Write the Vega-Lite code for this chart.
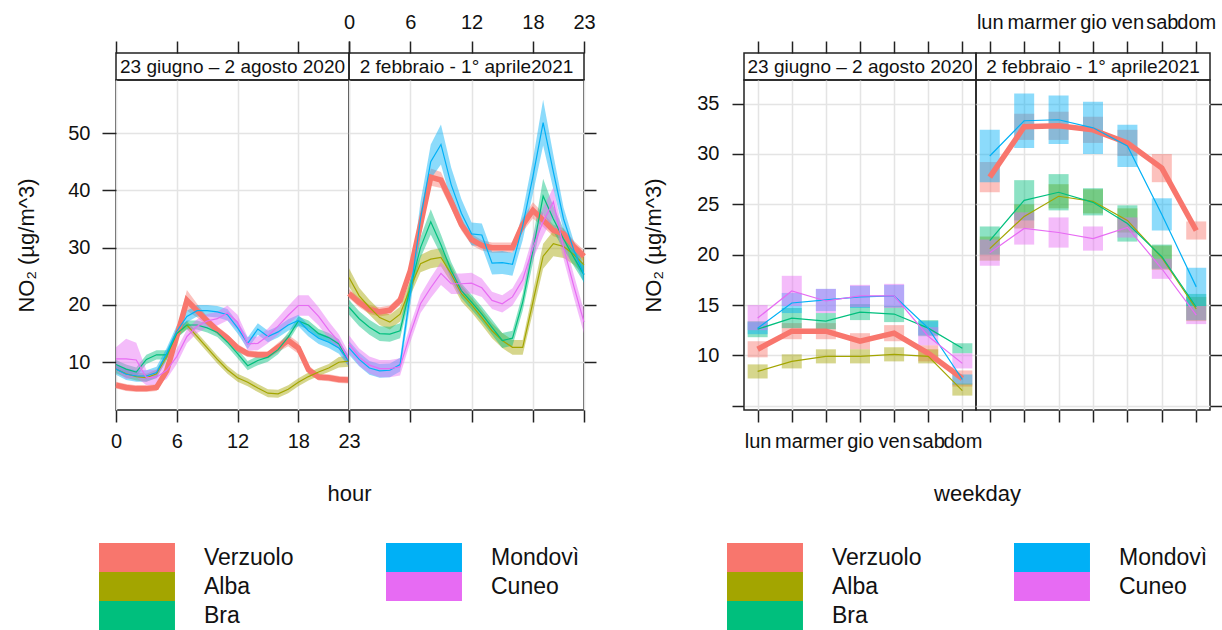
{
"$schema": "https://vega.github.io/schema/vega-lite/v6.json",
"background": "white",
"padding": {"left": 15, "top": 11, "right": 5, "bottom": 0},
"config": {
  "font": "Liberation Sans",
  "view": {"stroke": "#222", "strokeWidth": 1.5},
  "axis": {"domain": false, "tickColor": "#222", "tickWidth": 1.5, "tickSize": 12, "labelFontSize": 20, "labelColor": "#111", "titleFontSize": 22, "titleFontWeight": "normal", "titleColor": "#111", "gridColor": "#e4e4e4", "gridWidth": 1.5, "labelFlush": false, "labelOverlap": false},
  "legend": {"padding": 0}
},
"datasets": {
"hr": [
{"p":"s","s":"Verzuolo","h":0,"v":6.0,"lo":5.4,"hi":6.6},
{"p":"s","s":"Verzuolo","h":1,"v":5.6,"lo":5.0,"hi":6.2},
{"p":"s","s":"Verzuolo","h":2,"v":5.4,"lo":4.8,"hi":6.0},
{"p":"s","s":"Verzuolo","h":3,"v":5.4,"lo":4.8,"hi":6.0},
{"p":"s","s":"Verzuolo","h":4,"v":5.6,"lo":5.0,"hi":6.2},
{"p":"s","s":"Verzuolo","h":5,"v":8.5,"lo":7.7,"hi":9.3},
{"p":"s","s":"Verzuolo","h":6,"v":14.5,"lo":13.5,"hi":15.5},
{"p":"s","s":"Verzuolo","h":7,"v":20.8,"lo":19.0,"hi":22.6},
{"p":"s","s":"Verzuolo","h":8,"v":19.0,"lo":17.8,"hi":20.2},
{"p":"s","s":"Verzuolo","h":9,"v":17.2,"lo":16.4,"hi":18.0},
{"p":"s","s":"Verzuolo","h":10,"v":15.6,"lo":14.9,"hi":16.3},
{"p":"s","s":"Verzuolo","h":11,"v":14.2,"lo":13.5,"hi":14.9},
{"p":"s","s":"Verzuolo","h":12,"v":12.5,"lo":11.8,"hi":13.2},
{"p":"s","s":"Verzuolo","h":13,"v":11.5,"lo":10.9,"hi":12.1},
{"p":"s","s":"Verzuolo","h":14,"v":11.3,"lo":10.7,"hi":11.9},
{"p":"s","s":"Verzuolo","h":15,"v":11.3,"lo":10.7,"hi":11.9},
{"p":"s","s":"Verzuolo","h":16,"v":12.6,"lo":11.8,"hi":13.4},
{"p":"s","s":"Verzuolo","h":17,"v":13.8,"lo":12.8,"hi":14.8},
{"p":"s","s":"Verzuolo","h":18,"v":12.5,"lo":11.5,"hi":13.5},
{"p":"s","s":"Verzuolo","h":19,"v":8.7,"lo":7.9,"hi":9.5},
{"p":"s","s":"Verzuolo","h":20,"v":7.4,"lo":6.8,"hi":8.0},
{"p":"s","s":"Verzuolo","h":21,"v":7.3,"lo":6.7,"hi":7.9},
{"p":"s","s":"Verzuolo","h":22,"v":7.0,"lo":6.4,"hi":7.6},
{"p":"s","s":"Verzuolo","h":23,"v":6.9,"lo":6.3,"hi":7.5},
{"p":"s","s":"Alba","h":0,"v":8.8,"lo":8.1,"hi":9.5},
{"p":"s","s":"Alba","h":1,"v":8.0,"lo":7.3,"hi":8.7},
{"p":"s","s":"Alba","h":2,"v":7.5,"lo":6.8,"hi":8.2},
{"p":"s","s":"Alba","h":3,"v":7.3,"lo":6.6,"hi":8.0},
{"p":"s","s":"Alba","h":4,"v":8.0,"lo":7.3,"hi":8.7},
{"p":"s","s":"Alba","h":5,"v":11.0,"lo":10.3,"hi":11.7},
{"p":"s","s":"Alba","h":6,"v":15.0,"lo":14.3,"hi":15.7},
{"p":"s","s":"Alba","h":7,"v":16.5,"lo":15.8,"hi":17.2},
{"p":"s","s":"Alba","h":8,"v":14.5,"lo":13.8,"hi":15.2},
{"p":"s","s":"Alba","h":9,"v":12.5,"lo":11.8,"hi":13.2},
{"p":"s","s":"Alba","h":10,"v":10.5,"lo":9.8,"hi":11.2},
{"p":"s","s":"Alba","h":11,"v":8.7,"lo":8.0,"hi":9.4},
{"p":"s","s":"Alba","h":12,"v":7.3,"lo":6.6,"hi":8.0},
{"p":"s","s":"Alba","h":13,"v":6.5,"lo":5.8,"hi":7.2},
{"p":"s","s":"Alba","h":14,"v":5.5,"lo":4.8,"hi":6.2},
{"p":"s","s":"Alba","h":15,"v":4.6,"lo":3.9,"hi":5.3},
{"p":"s","s":"Alba","h":16,"v":4.5,"lo":3.8,"hi":5.2},
{"p":"s","s":"Alba","h":17,"v":5.3,"lo":4.6,"hi":6.0},
{"p":"s","s":"Alba","h":18,"v":6.5,"lo":5.8,"hi":7.2},
{"p":"s","s":"Alba","h":19,"v":7.5,"lo":6.8,"hi":8.2},
{"p":"s","s":"Alba","h":20,"v":8.3,"lo":7.6,"hi":9.0},
{"p":"s","s":"Alba","h":21,"v":9.0,"lo":8.3,"hi":9.7},
{"p":"s","s":"Alba","h":22,"v":10.0,"lo":9.1,"hi":10.9},
{"p":"s","s":"Alba","h":23,"v":10.2,"lo":9.2,"hi":11.2},
{"p":"s","s":"Bra","h":0,"v":9.6,"lo":8.8,"hi":10.4},
{"p":"s","s":"Bra","h":1,"v":8.8,"lo":8.0,"hi":9.6},
{"p":"s","s":"Bra","h":2,"v":8.3,"lo":7.5,"hi":9.1},
{"p":"s","s":"Bra","h":3,"v":10.5,"lo":9.7,"hi":11.3},
{"p":"s","s":"Bra","h":4,"v":11.3,"lo":10.5,"hi":12.1},
{"p":"s","s":"Bra","h":5,"v":11.3,"lo":10.5,"hi":12.1},
{"p":"s","s":"Bra","h":6,"v":15.0,"lo":14.2,"hi":15.8},
{"p":"s","s":"Bra","h":7,"v":16.5,"lo":15.7,"hi":17.3},
{"p":"s","s":"Bra","h":8,"v":16.5,"lo":15.7,"hi":17.3},
{"p":"s","s":"Bra","h":9,"v":16.0,"lo":15.2,"hi":16.8},
{"p":"s","s":"Bra","h":10,"v":15.2,"lo":14.4,"hi":16.0},
{"p":"s","s":"Bra","h":11,"v":13.5,"lo":12.7,"hi":14.3},
{"p":"s","s":"Bra","h":12,"v":11.5,"lo":10.7,"hi":12.3},
{"p":"s","s":"Bra","h":13,"v":9.4,"lo":8.6,"hi":10.2},
{"p":"s","s":"Bra","h":14,"v":10.3,"lo":9.5,"hi":11.1},
{"p":"s","s":"Bra","h":15,"v":10.9,"lo":10.1,"hi":11.7},
{"p":"s","s":"Bra","h":16,"v":12.2,"lo":11.4,"hi":13.0},
{"p":"s","s":"Bra","h":17,"v":14.4,"lo":13.6,"hi":15.2},
{"p":"s","s":"Bra","h":18,"v":17.2,"lo":16.4,"hi":18.0},
{"p":"s","s":"Bra","h":19,"v":16.5,"lo":15.7,"hi":17.3},
{"p":"s","s":"Bra","h":20,"v":15.0,"lo":14.2,"hi":15.8},
{"p":"s","s":"Bra","h":21,"v":14.3,"lo":13.5,"hi":15.1},
{"p":"s","s":"Bra","h":22,"v":13.2,"lo":12.4,"hi":14.0},
{"p":"s","s":"Bra","h":23,"v":10.0,"lo":9.2,"hi":10.8},
{"p":"s","s":"Mondovì","h":0,"v":8.8,"lo":7.8,"hi":9.8},
{"p":"s","s":"Mondovì","h":1,"v":7.9,"lo":6.9,"hi":8.9},
{"p":"s","s":"Mondovì","h":2,"v":7.6,"lo":6.6,"hi":8.6},
{"p":"s","s":"Mondovì","h":3,"v":7.6,"lo":6.6,"hi":8.6},
{"p":"s","s":"Mondovì","h":4,"v":8.2,"lo":7.2,"hi":9.2},
{"p":"s","s":"Mondovì","h":5,"v":11.5,"lo":10.5,"hi":12.5},
{"p":"s","s":"Mondovì","h":6,"v":15.4,"lo":14.4,"hi":16.4},
{"p":"s","s":"Mondovì","h":7,"v":18.0,"lo":17.0,"hi":19.0},
{"p":"s","s":"Mondovì","h":8,"v":19.0,"lo":18.0,"hi":20.0},
{"p":"s","s":"Mondovì","h":9,"v":19.0,"lo":18.0,"hi":20.0},
{"p":"s","s":"Mondovì","h":10,"v":18.8,"lo":17.8,"hi":19.8},
{"p":"s","s":"Mondovì","h":11,"v":18.3,"lo":17.3,"hi":19.3},
{"p":"s","s":"Mondovì","h":12,"v":16.0,"lo":15.0,"hi":17.0},
{"p":"s","s":"Mondovì","h":13,"v":13.3,"lo":12.3,"hi":14.3},
{"p":"s","s":"Mondovì","h":14,"v":15.8,"lo":14.8,"hi":16.8},
{"p":"s","s":"Mondovì","h":15,"v":14.5,"lo":13.5,"hi":15.5},
{"p":"s","s":"Mondovì","h":16,"v":15.3,"lo":14.3,"hi":16.3},
{"p":"s","s":"Mondovì","h":17,"v":16.5,"lo":15.5,"hi":17.5},
{"p":"s","s":"Mondovì","h":18,"v":17.3,"lo":16.3,"hi":18.3},
{"p":"s","s":"Mondovì","h":19,"v":15.5,"lo":14.5,"hi":16.5},
{"p":"s","s":"Mondovì","h":20,"v":14.2,"lo":13.2,"hi":15.2},
{"p":"s","s":"Mondovì","h":21,"v":13.5,"lo":12.5,"hi":14.5},
{"p":"s","s":"Mondovì","h":22,"v":12.5,"lo":11.5,"hi":13.5},
{"p":"s","s":"Mondovì","h":23,"v":10.2,"lo":9.2,"hi":11.2},
{"p":"s","s":"Cuneo","h":0,"v":10.6,"lo":8.6,"hi":12.6},
{"p":"s","s":"Cuneo","h":1,"v":10.6,"lo":7.1,"hi":14.1},
{"p":"s","s":"Cuneo","h":2,"v":10.4,"lo":7.4,"hi":13.4},
{"p":"s","s":"Cuneo","h":3,"v":7.3,"lo":6.0,"hi":8.6},
{"p":"s","s":"Cuneo","h":4,"v":7.4,"lo":6.1,"hi":8.7},
{"p":"s","s":"Cuneo","h":5,"v":8.6,"lo":7.1,"hi":10.1},
{"p":"s","s":"Cuneo","h":6,"v":11.0,"lo":9.7,"hi":12.3},
{"p":"s","s":"Cuneo","h":7,"v":14.5,"lo":13.3,"hi":15.7},
{"p":"s","s":"Cuneo","h":8,"v":16.3,"lo":15.1,"hi":17.5},
{"p":"s","s":"Cuneo","h":9,"v":17.2,"lo":16.0,"hi":18.4},
{"p":"s","s":"Cuneo","h":10,"v":17.6,"lo":16.4,"hi":18.8},
{"p":"s","s":"Cuneo","h":11,"v":18.6,"lo":17.3,"hi":19.9},
{"p":"s","s":"Cuneo","h":12,"v":17.0,"lo":15.7,"hi":18.3},
{"p":"s","s":"Cuneo","h":13,"v":13.2,"lo":12.0,"hi":14.4},
{"p":"s","s":"Cuneo","h":14,"v":13.3,"lo":12.1,"hi":14.5},
{"p":"s","s":"Cuneo","h":15,"v":14.6,"lo":13.3,"hi":15.9},
{"p":"s","s":"Cuneo","h":16,"v":16.3,"lo":14.8,"hi":17.8},
{"p":"s","s":"Cuneo","h":17,"v":18.2,"lo":16.6,"hi":19.8},
{"p":"s","s":"Cuneo","h":18,"v":19.9,"lo":18.1,"hi":21.7},
{"p":"s","s":"Cuneo","h":19,"v":19.9,"lo":18.1,"hi":21.7},
{"p":"s","s":"Cuneo","h":20,"v":18.0,"lo":16.4,"hi":19.6},
{"p":"s","s":"Cuneo","h":21,"v":15.6,"lo":14.1,"hi":17.1},
{"p":"s","s":"Cuneo","h":22,"v":13.6,"lo":12.3,"hi":14.9},
{"p":"s","s":"Cuneo","h":23,"v":10.4,"lo":9.2,"hi":11.6},
{"p":"w","s":"Verzuolo","h":0,"v":22.0,"lo":21.2,"hi":22.8},
{"p":"w","s":"Verzuolo","h":1,"v":20.4,"lo":19.6,"hi":21.2},
{"p":"w","s":"Verzuolo","h":2,"v":19.2,"lo":18.4,"hi":20.0},
{"p":"w","s":"Verzuolo","h":3,"v":18.8,"lo":18.0,"hi":19.6},
{"p":"w","s":"Verzuolo","h":4,"v":19.1,"lo":18.3,"hi":19.9},
{"p":"w","s":"Verzuolo","h":5,"v":20.8,"lo":20.0,"hi":21.6},
{"p":"w","s":"Verzuolo","h":6,"v":26.0,"lo":25.1,"hi":26.9},
{"p":"w","s":"Verzuolo","h":7,"v":34.0,"lo":33.0,"hi":35.0},
{"p":"w","s":"Verzuolo","h":8,"v":42.3,"lo":40.8,"hi":43.8},
{"p":"w","s":"Verzuolo","h":9,"v":41.8,"lo":40.4,"hi":43.2},
{"p":"w","s":"Verzuolo","h":10,"v":38.0,"lo":36.8,"hi":39.2},
{"p":"w","s":"Verzuolo","h":11,"v":34.0,"lo":33.0,"hi":35.0},
{"p":"w","s":"Verzuolo","h":12,"v":31.4,"lo":30.4,"hi":32.4},
{"p":"w","s":"Verzuolo","h":13,"v":30.4,"lo":29.5,"hi":31.3},
{"p":"w","s":"Verzuolo","h":14,"v":30.0,"lo":29.1,"hi":30.9},
{"p":"w","s":"Verzuolo","h":15,"v":30.0,"lo":29.1,"hi":30.9},
{"p":"w","s":"Verzuolo","h":16,"v":30.0,"lo":29.1,"hi":30.9},
{"p":"w","s":"Verzuolo","h":17,"v":34.0,"lo":32.8,"hi":35.2},
{"p":"w","s":"Verzuolo","h":18,"v":36.5,"lo":35.1,"hi":37.9},
{"p":"w","s":"Verzuolo","h":19,"v":34.8,"lo":33.6,"hi":36.0},
{"p":"w","s":"Verzuolo","h":20,"v":33.0,"lo":32.0,"hi":34.0},
{"p":"w","s":"Verzuolo","h":21,"v":32.4,"lo":31.4,"hi":33.4},
{"p":"w","s":"Verzuolo","h":22,"v":30.2,"lo":29.2,"hi":31.2},
{"p":"w","s":"Verzuolo","h":23,"v":28.5,"lo":27.5,"hi":29.5},
{"p":"w","s":"Alba","h":0,"v":24.8,"lo":23.2,"hi":26.4},
{"p":"w","s":"Alba","h":1,"v":21.6,"lo":20.2,"hi":23.0},
{"p":"w","s":"Alba","h":2,"v":19.6,"lo":18.3,"hi":20.9},
{"p":"w","s":"Alba","h":3,"v":17.8,"lo":16.5,"hi":19.1},
{"p":"w","s":"Alba","h":4,"v":17.0,"lo":15.7,"hi":18.3},
{"p":"w","s":"Alba","h":5,"v":18.4,"lo":17.1,"hi":19.7},
{"p":"w","s":"Alba","h":6,"v":23.0,"lo":21.6,"hi":24.4},
{"p":"w","s":"Alba","h":7,"v":27.2,"lo":25.7,"hi":28.7},
{"p":"w","s":"Alba","h":8,"v":28.0,"lo":26.4,"hi":29.6},
{"p":"w","s":"Alba","h":9,"v":28.3,"lo":26.7,"hi":29.9},
{"p":"w","s":"Alba","h":10,"v":25.4,"lo":23.9,"hi":26.9},
{"p":"w","s":"Alba","h":11,"v":22.0,"lo":20.6,"hi":23.4},
{"p":"w","s":"Alba","h":12,"v":20.0,"lo":18.7,"hi":21.3},
{"p":"w","s":"Alba","h":13,"v":17.8,"lo":16.5,"hi":19.1},
{"p":"w","s":"Alba","h":14,"v":15.5,"lo":14.2,"hi":16.8},
{"p":"w","s":"Alba","h":15,"v":13.8,"lo":12.5,"hi":15.1},
{"p":"w","s":"Alba","h":16,"v":12.6,"lo":11.3,"hi":13.9},
{"p":"w","s":"Alba","h":17,"v":12.6,"lo":11.3,"hi":13.9},
{"p":"w","s":"Alba","h":18,"v":20.5,"lo":18.7,"hi":22.3},
{"p":"w","s":"Alba","h":19,"v":28.5,"lo":26.3,"hi":30.7},
{"p":"w","s":"Alba","h":20,"v":30.7,"lo":28.5,"hi":32.9},
{"p":"w","s":"Alba","h":21,"v":30.2,"lo":28.2,"hi":32.2},
{"p":"w","s":"Alba","h":22,"v":28.8,"lo":27.0,"hi":30.6},
{"p":"w","s":"Alba","h":23,"v":27.0,"lo":25.2,"hi":28.8},
{"p":"w","s":"Bra","h":0,"v":19.6,"lo":18.3,"hi":20.9},
{"p":"w","s":"Bra","h":1,"v":17.6,"lo":16.3,"hi":18.9},
{"p":"w","s":"Bra","h":2,"v":16.1,"lo":14.8,"hi":17.4},
{"p":"w","s":"Bra","h":3,"v":15.0,"lo":13.7,"hi":16.3},
{"p":"w","s":"Bra","h":4,"v":14.9,"lo":13.6,"hi":16.2},
{"p":"w","s":"Bra","h":5,"v":15.5,"lo":14.2,"hi":16.8},
{"p":"w","s":"Bra","h":6,"v":23.0,"lo":21.5,"hi":24.5},
{"p":"w","s":"Bra","h":7,"v":30.0,"lo":28.2,"hi":31.8},
{"p":"w","s":"Bra","h":8,"v":34.5,"lo":32.3,"hi":36.7},
{"p":"w","s":"Bra","h":9,"v":30.5,"lo":28.7,"hi":32.3},
{"p":"w","s":"Bra","h":10,"v":26.0,"lo":24.5,"hi":27.5},
{"p":"w","s":"Bra","h":11,"v":22.5,"lo":21.2,"hi":23.8},
{"p":"w","s":"Bra","h":12,"v":20.5,"lo":19.2,"hi":21.8},
{"p":"w","s":"Bra","h":13,"v":18.4,"lo":17.1,"hi":19.7},
{"p":"w","s":"Bra","h":14,"v":16.1,"lo":14.8,"hi":17.4},
{"p":"w","s":"Bra","h":15,"v":13.8,"lo":12.5,"hi":15.1},
{"p":"w","s":"Bra","h":16,"v":14.2,"lo":12.9,"hi":15.5},
{"p":"w","s":"Bra","h":17,"v":20.5,"lo":19.0,"hi":22.0},
{"p":"w","s":"Bra","h":18,"v":29.5,"lo":27.3,"hi":31.7},
{"p":"w","s":"Bra","h":19,"v":39.0,"lo":36.0,"hi":42.0},
{"p":"w","s":"Bra","h":20,"v":35.0,"lo":32.8,"hi":37.2},
{"p":"w","s":"Bra","h":21,"v":31.5,"lo":29.7,"hi":33.3},
{"p":"w","s":"Bra","h":22,"v":28.3,"lo":26.8,"hi":29.8},
{"p":"w","s":"Bra","h":23,"v":25.3,"lo":23.9,"hi":26.7},
{"p":"w","s":"Mondovì","h":0,"v":12.5,"lo":11.3,"hi":13.7},
{"p":"w","s":"Mondovì","h":1,"v":10.5,"lo":9.3,"hi":11.7},
{"p":"w","s":"Mondovì","h":2,"v":9.0,"lo":7.8,"hi":10.2},
{"p":"w","s":"Mondovì","h":3,"v":8.5,"lo":7.3,"hi":9.7},
{"p":"w","s":"Mondovì","h":4,"v":8.6,"lo":7.4,"hi":9.8},
{"p":"w","s":"Mondovì","h":5,"v":9.6,"lo":8.4,"hi":10.8},
{"p":"w","s":"Mondovì","h":6,"v":22.0,"lo":20.0,"hi":24.0},
{"p":"w","s":"Mondovì","h":7,"v":35.0,"lo":32.0,"hi":38.0},
{"p":"w","s":"Mondovì","h":8,"v":45.0,"lo":42.0,"hi":48.0},
{"p":"w","s":"Mondovì","h":9,"v":48.0,"lo":44.5,"hi":51.5},
{"p":"w","s":"Mondovì","h":10,"v":41.0,"lo":38.0,"hi":44.0},
{"p":"w","s":"Mondovì","h":11,"v":36.0,"lo":33.5,"hi":38.5},
{"p":"w","s":"Mondovì","h":12,"v":32.4,"lo":30.4,"hi":34.4},
{"p":"w","s":"Mondovì","h":13,"v":32.2,"lo":30.2,"hi":34.2},
{"p":"w","s":"Mondovì","h":14,"v":27.3,"lo":25.3,"hi":29.3},
{"p":"w","s":"Mondovì","h":15,"v":27.4,"lo":25.4,"hi":29.4},
{"p":"w","s":"Mondovì","h":16,"v":27.1,"lo":25.1,"hi":29.1},
{"p":"w","s":"Mondovì","h":17,"v":33.8,"lo":31.3,"hi":36.3},
{"p":"w","s":"Mondovì","h":18,"v":42.4,"lo":39.4,"hi":45.4},
{"p":"w","s":"Mondovì","h":19,"v":51.8,"lo":47.8,"hi":55.8},
{"p":"w","s":"Mondovì","h":20,"v":43.2,"lo":40.2,"hi":46.2},
{"p":"w","s":"Mondovì","h":21,"v":35.0,"lo":33.0,"hi":37.0},
{"p":"w","s":"Mondovì","h":22,"v":29.6,"lo":28.1,"hi":31.1},
{"p":"w","s":"Mondovì","h":23,"v":25.3,"lo":23.8,"hi":26.8},
{"p":"w","s":"Cuneo","h":0,"v":13.2,"lo":11.7,"hi":14.7},
{"p":"w","s":"Cuneo","h":1,"v":10.9,"lo":9.4,"hi":12.4},
{"p":"w","s":"Cuneo","h":2,"v":9.5,"lo":8.0,"hi":11.0},
{"p":"w","s":"Cuneo","h":3,"v":8.9,"lo":7.4,"hi":10.4},
{"p":"w","s":"Cuneo","h":4,"v":8.9,"lo":7.4,"hi":10.4},
{"p":"w","s":"Cuneo","h":5,"v":9.2,"lo":7.7,"hi":10.7},
{"p":"w","s":"Cuneo","h":6,"v":15.0,"lo":13.5,"hi":16.5},
{"p":"w","s":"Cuneo","h":7,"v":20.2,"lo":18.6,"hi":21.8},
{"p":"w","s":"Cuneo","h":8,"v":23.0,"lo":21.2,"hi":24.8},
{"p":"w","s":"Cuneo","h":9,"v":25.5,"lo":23.5,"hi":27.5},
{"p":"w","s":"Cuneo","h":10,"v":23.7,"lo":21.9,"hi":25.5},
{"p":"w","s":"Cuneo","h":11,"v":23.7,"lo":21.9,"hi":25.5},
{"p":"w","s":"Cuneo","h":12,"v":23.8,"lo":22.0,"hi":25.6},
{"p":"w","s":"Cuneo","h":13,"v":23.0,"lo":21.4,"hi":24.6},
{"p":"w","s":"Cuneo","h":14,"v":20.8,"lo":19.3,"hi":22.3},
{"p":"w","s":"Cuneo","h":15,"v":20.2,"lo":18.7,"hi":21.7},
{"p":"w","s":"Cuneo","h":16,"v":21.4,"lo":19.9,"hi":22.9},
{"p":"w","s":"Cuneo","h":17,"v":24.4,"lo":22.8,"hi":26.0},
{"p":"w","s":"Cuneo","h":18,"v":30.0,"lo":28.0,"hi":32.0},
{"p":"w","s":"Cuneo","h":19,"v":34.5,"lo":32.0,"hi":37.0},
{"p":"w","s":"Cuneo","h":20,"v":38.0,"lo":35.5,"hi":40.5},
{"p":"w","s":"Cuneo","h":21,"v":30.0,"lo":28.0,"hi":32.0},
{"p":"w","s":"Cuneo","h":22,"v":23.3,"lo":21.3,"hi":25.3},
{"p":"w","s":"Cuneo","h":23,"v":17.0,"lo":15.0,"hi":19.0}
],
"wd": [
{"p":"s","s":"Verzuolo","d":"lun","v":10.6,"lo":9.8,"hi":11.4},
{"p":"s","s":"Verzuolo","d":"mar","v":12.4,"lo":11.6,"hi":13.2},
{"p":"s","s":"Verzuolo","d":"mer","v":12.4,"lo":11.6,"hi":13.2},
{"p":"s","s":"Verzuolo","d":"gio","v":11.4,"lo":10.6,"hi":12.2},
{"p":"s","s":"Verzuolo","d":"ven","v":12.2,"lo":11.4,"hi":13.0},
{"p":"s","s":"Verzuolo","d":"sab","v":10.2,"lo":9.4,"hi":11.0},
{"p":"s","s":"Verzuolo","d":"dom","v":7.7,"lo":6.9,"hi":8.5},
{"p":"s","s":"Alba","d":"lun","v":8.4,"lo":7.7,"hi":9.1},
{"p":"s","s":"Alba","d":"mar","v":9.4,"lo":8.7,"hi":10.1},
{"p":"s","s":"Alba","d":"mer","v":9.9,"lo":9.2,"hi":10.6},
{"p":"s","s":"Alba","d":"gio","v":9.9,"lo":9.2,"hi":10.6},
{"p":"s","s":"Alba","d":"ven","v":10.1,"lo":9.4,"hi":10.8},
{"p":"s","s":"Alba","d":"sab","v":9.9,"lo":9.2,"hi":10.6},
{"p":"s","s":"Alba","d":"dom","v":6.5,"lo":6.0,"hi":7.2},
{"p":"s","s":"Bra","d":"lun","v":12.6,"lo":11.8,"hi":13.4},
{"p":"s","s":"Bra","d":"mar","v":13.7,"lo":12.7,"hi":14.7},
{"p":"s","s":"Bra","d":"mer","v":13.4,"lo":12.6,"hi":14.2},
{"p":"s","s":"Bra","d":"gio","v":14.3,"lo":13.5,"hi":15.1},
{"p":"s","s":"Bra","d":"ven","v":14.1,"lo":13.3,"hi":14.9},
{"p":"s","s":"Bra","d":"sab","v":12.7,"lo":11.9,"hi":13.5},
{"p":"s","s":"Bra","d":"dom","v":10.7,"lo":10.2,"hi":11.2},
{"p":"s","s":"Mondovì","d":"lun","v":12.7,"lo":12.1,"hi":13.3},
{"p":"s","s":"Mondovì","d":"mar","v":15.2,"lo":14.2,"hi":16.2},
{"p":"s","s":"Mondovì","d":"mer","v":15.5,"lo":14.4,"hi":16.6},
{"p":"s","s":"Mondovì","d":"gio","v":15.8,"lo":14.7,"hi":16.9},
{"p":"s","s":"Mondovì","d":"ven","v":15.9,"lo":14.8,"hi":17.0},
{"p":"s","s":"Mondovì","d":"sab","v":12.7,"lo":12.0,"hi":13.4},
{"p":"s","s":"Mondovì","d":"dom","v":7.6,"lo":7.1,"hi":8.1},
{"p":"s","s":"Cuneo","d":"lun","v":13.7,"lo":12.5,"hi":15.0},
{"p":"s","s":"Cuneo","d":"mar","v":16.4,"lo":14.9,"hi":17.9},
{"p":"s","s":"Cuneo","d":"mer","v":15.4,"lo":14.2,"hi":16.6},
{"p":"s","s":"Cuneo","d":"gio","v":15.9,"lo":14.8,"hi":17.0},
{"p":"s","s":"Cuneo","d":"ven","v":15.9,"lo":14.7,"hi":17.1},
{"p":"s","s":"Cuneo","d":"sab","v":11.9,"lo":11.0,"hi":12.8},
{"p":"s","s":"Cuneo","d":"dom","v":9.2,"lo":8.7,"hi":10.2},
{"p":"w","s":"Verzuolo","d":"lun","v":27.7,"lo":26.2,"hi":29.2},
{"p":"w","s":"Verzuolo","d":"mar","v":32.7,"lo":31.4,"hi":34.0},
{"p":"w","s":"Verzuolo","d":"mer","v":32.8,"lo":31.4,"hi":34.2},
{"p":"w","s":"Verzuolo","d":"gio","v":32.4,"lo":31.1,"hi":33.7},
{"p":"w","s":"Verzuolo","d":"ven","v":31.1,"lo":29.8,"hi":32.4},
{"p":"w","s":"Verzuolo","d":"sab","v":28.6,"lo":27.2,"hi":30.0},
{"p":"w","s":"Verzuolo","d":"dom","v":22.4,"lo":21.5,"hi":23.3},
{"p":"w","s":"Alba","d":"lun","v":20.6,"lo":19.4,"hi":21.8},
{"p":"w","s":"Alba","d":"mar","v":23.8,"lo":22.6,"hi":25.0},
{"p":"w","s":"Alba","d":"mer","v":25.8,"lo":24.6,"hi":27.0},
{"p":"w","s":"Alba","d":"gio","v":25.3,"lo":24.1,"hi":26.5},
{"p":"w","s":"Alba","d":"ven","v":23.4,"lo":22.2,"hi":24.6},
{"p":"w","s":"Alba","d":"sab","v":19.7,"lo":18.5,"hi":20.9},
{"p":"w","s":"Alba","d":"dom","v":14.6,"lo":13.4,"hi":15.8},
{"p":"w","s":"Bra","d":"lun","v":21.4,"lo":20.0,"hi":22.8},
{"p":"w","s":"Bra","d":"mar","v":25.4,"lo":23.4,"hi":27.4},
{"p":"w","s":"Bra","d":"mer","v":26.2,"lo":24.4,"hi":28.0},
{"p":"w","s":"Bra","d":"gio","v":25.2,"lo":23.9,"hi":26.6},
{"p":"w","s":"Bra","d":"ven","v":23.1,"lo":21.3,"hi":24.9},
{"p":"w","s":"Bra","d":"sab","v":19.8,"lo":18.6,"hi":21.0},
{"p":"w","s":"Bra","d":"dom","v":14.8,"lo":13.5,"hi":16.1},
{"p":"w","s":"Mondovì","d":"lun","v":29.8,"lo":27.2,"hi":32.4},
{"p":"w","s":"Mondovì","d":"mar","v":33.3,"lo":30.6,"hi":36.0},
{"p":"w","s":"Mondovì","d":"mer","v":33.4,"lo":31.0,"hi":35.8},
{"p":"w","s":"Mondovì","d":"gio","v":32.6,"lo":30.0,"hi":35.2},
{"p":"w","s":"Mondovì","d":"ven","v":30.8,"lo":28.7,"hi":32.9},
{"p":"w","s":"Mondovì","d":"sab","v":24.0,"lo":22.4,"hi":25.6},
{"p":"w","s":"Mondovì","d":"dom","v":16.8,"lo":14.9,"hi":18.7},
{"p":"w","s":"Cuneo","d":"lun","v":20.2,"lo":18.9,"hi":21.5},
{"p":"w","s":"Cuneo","d":"mar","v":22.6,"lo":21.0,"hi":24.2},
{"p":"w","s":"Cuneo","d":"mer","v":22.2,"lo":20.7,"hi":23.7},
{"p":"w","s":"Cuneo","d":"gio","v":21.6,"lo":20.4,"hi":22.8},
{"p":"w","s":"Cuneo","d":"ven","v":22.7,"lo":21.7,"hi":23.7},
{"p":"w","s":"Cuneo","d":"sab","v":18.6,"lo":17.6,"hi":19.6},
{"p":"w","s":"Cuneo","d":"dom","v":14.0,"lo":13.1,"hi":14.9}
]
},
"hconcat": [
{
  "columns": 2, "spacing": 0, "bounds": "flush",
  "concat": [
    {"width": 233, "height": 27, "data": {"values": [{"t": "23 giugno – 2 agosto 2020"}]},
     "mark": {"type": "text", "fontSize": 19, "color": "#111"},
     "encoding": {"text": {"field": "t"},
       "x": {"datum": 11.5, "type": "quantitative", "scale": {"domain": [0, 23], "nice": false, "zero": false},
             "axis": {"orient": "top", "values": [0, 6, 12, 18, 23], "labels": false, "grid": false, "title": null}}}},
    {"width": 235, "height": 27, "data": {"values": [{"t": "2 febbraio - 1° aprile2021"}]},
     "mark": {"type": "text", "fontSize": 19, "color": "#111"},
     "encoding": {"text": {"field": "t"},
       "x": {"datum": 11.5, "type": "quantitative", "scale": {"domain": [0, 23], "nice": false, "zero": false},
             "axis": {"orient": "top", "values": [0, 6, 12, 18, 23], "labelPadding": 9, "grid": false, "title": null}}}},
    {"width": 233, "height": 330, "data": {"name": "hr"},
     "transform": [{"filter": "datum.p == 's'"}],
     "encoding": {"x": {"field": "h", "type": "quantitative", "scale": {"domain": [0, 23], "nice": false, "zero": false},
        "axis": {"values": [0, 6, 12, 18, 23], "labelPadding": 9, "title": "hour", "titleX": 233, "titleY": 90, "titleBaseline": "alphabetic", "titleAlign": "center"}}},
     "layer": [
       {"transform": [{"filter": "false"}],
        "mark": {"type": "area"},
        "encoding": {"y": {"field": "lo", "type": "quantitative", "scale": {"domain": [1.67, 59.25], "nice": false, "zero": false},
            "axis": {"values": [10, 20, 30, 40, 50], "tickSize": 14, "labelPadding": 12, "title": "NO₂ (µg/m^3)", "titlePadding": 29}},
          "color": {"field": "s", "type": "nominal", "scale": {"domain": ["Verzuolo", "Alba", "Bra", "Mondovì", "Cuneo"], "range": ["#F8766D", "#A3A500", "#00BF7D", "#00B0F6", "#E76BF3"]},
            "legend": {"orient": "none", "legendX": -17, "legendY": 490, "columns": 2, "title": null, "symbolType": "M-1,-1H4.24V1H-1Z", "symbolSize": 841, "symbolStrokeWidth": 0, "symbolOpacity": 1, "labelFontSize": 23, "labelOffset": 76, "labelColor": "#111", "rowPadding": 0, "columnPadding": 92, "gridAlign": "all"}}}},
       {"mark": {"type": "area", "opacity": 0.45},
        "encoding": {"y": {"field": "lo", "type": "quantitative",
            "axis": {"values": [10, 20, 30, 40, 50], "tickSize": 14, "labelPadding": 12, "title": "NO₂ (µg/m^3)", "titlePadding": 29}},
          "y2": {"field": "hi"},
          "color": {"field": "s", "type": "nominal", "legend": null}}},
       {"transform": [{"filter": "datum.s == 'Verzuolo'"}],
        "mark": {"type": "line", "strokeWidth": 5.5},
        "encoding": {"y": {"field": "v", "type": "quantitative", "axis": {"values": [10, 20, 30, 40, 50], "tickSize": 14, "labelPadding": 12, "title": "NO₂ (µg/m^3)", "titlePadding": 29}},
          "color": {"field": "s", "type": "nominal", "legend": null}}},
       {"transform": [{"filter": "datum.s != 'Verzuolo'"}],
        "mark": {"type": "line", "strokeWidth": 1.2},
        "encoding": {"y": {"field": "v", "type": "quantitative", "axis": {"values": [10, 20, 30, 40, 50], "tickSize": 14, "labelPadding": 12, "title": "NO₂ (µg/m^3)", "titlePadding": 29}},
          "color": {"field": "s", "type": "nominal", "legend": null}}}
     ]},
    {"width": 235, "height": 330, "data": {"name": "hr"},
     "transform": [{"filter": "datum.p == 'w'"}],
     "encoding": {"x": {"field": "h", "type": "quantitative", "scale": {"domain": [0, 23], "nice": false, "zero": false},
        "axis": {"values": [0, 6, 12, 18, 23], "labels": false, "title": null}}},
     "layer": [
       {"mark": {"type": "area", "opacity": 0.45},
        "encoding": {"y": {"field": "lo", "type": "quantitative", "scale": {"domain": [1.67, 59.25], "nice": false, "zero": false},
            "axis": {"orient": "right", "values": [10, 20, 30, 40, 50], "labels": false, "title": null}},
          "y2": {"field": "hi"},
          "color": {"field": "s", "type": "nominal", "legend": null}}},
       {"transform": [{"filter": "datum.s == 'Verzuolo'"}],
        "mark": {"type": "line", "strokeWidth": 5.5},
        "encoding": {"y": {"field": "v", "type": "quantitative", "axis": {"orient": "right", "values": [10, 20, 30, 40, 50], "labels": false, "title": null}},
          "color": {"field": "s", "type": "nominal", "legend": null}}},
       {"transform": [{"filter": "datum.s != 'Verzuolo'"}],
        "mark": {"type": "line", "strokeWidth": 1.2},
        "encoding": {"y": {"field": "v", "type": "quantitative", "axis": {"orient": "right", "values": [10, 20, 30, 40, 50], "labels": false, "title": null}},
          "color": {"field": "s", "type": "nominal", "legend": null}}}
     ]}
  ]
},
{
  "columns": 2, "spacing": 0, "bounds": "flush",
  "concat": [
    {"width": 232, "height": 27, "data": {"values": [{"t": "23 giugno – 2 agosto 2020"}]},
     "mark": {"type": "text", "fontSize": 19, "color": "#111"},
     "encoding": {"text": {"field": "t"},
       "x": {"datum": "gio", "type": "ordinal", "scale": {"type": "point", "domain": ["lun", "mar", "mer", "gio", "ven", "sab", "dom"], "padding": 0.4},
             "axis": {"orient": "top", "labels": false, "grid": false, "title": null}}}},
    {"width": 234, "height": 27, "data": {"values": [{"t": "2 febbraio - 1° aprile2021"}]},
     "mark": {"type": "text", "fontSize": 19, "color": "#111"},
     "encoding": {"text": {"field": "t"},
       "x": {"datum": "gio", "type": "ordinal", "scale": {"type": "point", "domain": ["lun", "mar", "mer", "gio", "ven", "sab", "dom"], "padding": 0.4},
             "axis": {"orient": "top", "labelPadding": 9, "labelAngle": 0, "grid": false, "title": null}}}},
    {"width": 232, "height": 330, "data": {"name": "wd"},
     "transform": [{"filter": "datum.p == 's'"}],
     "encoding": {"x": {"field": "d", "type": "ordinal", "scale": {"type": "point", "domain": ["lun", "mar", "mer", "gio", "ven", "sab", "dom"], "padding": 0.4},
        "axis": {"labelAngle": 0, "labelPadding": 9, "grid": true, "title": "weekday", "titleX": 233, "titleY": 90, "titleBaseline": "alphabetic", "titleAlign": "center"}}},
     "layer": [
       {"transform": [{"filter": "false"}],
        "mark": {"type": "bar", "size": 20},
        "encoding": {"y": {"field": "lo", "type": "quantitative", "scale": {"domain": [4.57, 37.35], "nice": false, "zero": false},
            "axis": {"values": [5, 10, 15, 20, 25, 30, 35], "labelExpr": "datum.value == 5 ? '' : datum.label", "labelPadding": 13, "title": "NO₂ (µg/m^3)", "titlePadding": 31}},
          "color": {"field": "s", "type": "nominal", "scale": {"domain": ["Verzuolo", "Alba", "Bra", "Mondovì", "Cuneo"], "range": ["#F8766D", "#A3A500", "#00BF7D", "#00B0F6", "#E76BF3"]},
            "legend": {"orient": "none", "legendX": -17, "legendY": 490, "columns": 2, "title": null, "symbolType": "M-1,-1H4.24V1H-1Z", "symbolSize": 841, "symbolStrokeWidth": 0, "symbolOpacity": 1, "labelFontSize": 23, "labelOffset": 76, "labelColor": "#111", "rowPadding": 0, "columnPadding": 92, "gridAlign": "all"}}}},
       {"mark": {"type": "bar", "opacity": 0.45, "size": 20},
        "encoding": {"y": {"field": "lo", "type": "quantitative",
            "axis": {"values": [5, 10, 15, 20, 25, 30, 35], "labelExpr": "datum.value == 5 ? '' : datum.label", "labelPadding": 13, "title": "NO₂ (µg/m^3)", "titlePadding": 31}},
          "y2": {"field": "hi"},
          "color": {"field": "s", "type": "nominal", "legend": null}}},
       {"transform": [{"filter": "datum.s == 'Verzuolo'"}],
        "mark": {"type": "line", "strokeWidth": 5.5},
        "encoding": {"y": {"field": "v", "type": "quantitative", "axis": {"values": [5, 10, 15, 20, 25, 30, 35], "labelExpr": "datum.value == 5 ? '' : datum.label", "labelPadding": 13, "title": "NO₂ (µg/m^3)", "titlePadding": 31}},
          "color": {"field": "s", "type": "nominal", "legend": null}}},
       {"transform": [{"filter": "datum.s != 'Verzuolo'"}],
        "mark": {"type": "line", "strokeWidth": 1.2},
        "encoding": {"y": {"field": "v", "type": "quantitative", "axis": {"values": [5, 10, 15, 20, 25, 30, 35], "labelExpr": "datum.value == 5 ? '' : datum.label", "labelPadding": 13, "title": "NO₂ (µg/m^3)", "titlePadding": 31}},
          "color": {"field": "s", "type": "nominal", "legend": null}}}
     ]},
    {"width": 234, "height": 330, "data": {"name": "wd"},
     "transform": [{"filter": "datum.p == 'w'"}],
     "encoding": {"x": {"field": "d", "type": "ordinal", "scale": {"type": "point", "domain": ["lun", "mar", "mer", "gio", "ven", "sab", "dom"], "padding": 0.4},
        "axis": {"labels": false, "grid": true, "title": null}}},
     "layer": [
       {"mark": {"type": "bar", "opacity": 0.45, "size": 20},
        "encoding": {"y": {"field": "lo", "type": "quantitative", "scale": {"domain": [4.57, 37.35], "nice": false, "zero": false},
            "axis": {"orient": "right", "values": [5, 10, 15, 20, 25, 30, 35], "labels": false, "title": null}},
          "y2": {"field": "hi"},
          "color": {"field": "s", "type": "nominal", "legend": null}}},
       {"transform": [{"filter": "datum.s == 'Verzuolo'"}],
        "mark": {"type": "line", "strokeWidth": 5.5},
        "encoding": {"y": {"field": "v", "type": "quantitative", "axis": {"orient": "right", "values": [5, 10, 15, 20, 25, 30, 35], "labels": false, "title": null}},
          "color": {"field": "s", "type": "nominal", "legend": null}}},
       {"transform": [{"filter": "datum.s != 'Verzuolo'"}],
        "mark": {"type": "line", "strokeWidth": 1.2},
        "encoding": {"y": {"field": "v", "type": "quantitative", "axis": {"orient": "right", "values": [5, 10, 15, 20, 25, 30, 35], "labels": false, "title": null}},
          "color": {"field": "s", "type": "nominal", "legend": null}}}
     ]}
  ]
}
],
"spacing": 44,
"resolve": {"scale": {"color": "independent"}}
}
